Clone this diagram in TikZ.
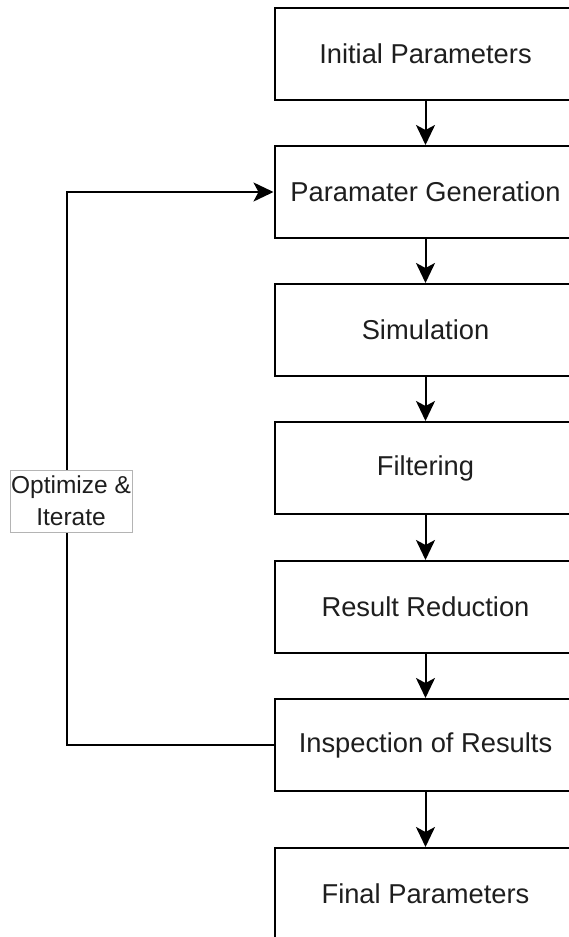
\documentclass[tikz,border=0pt]{standalone}
\usepackage{fontspec}
\setmainfont{Liberation Sans}
\usepackage{tikz}
\usetikzlibrary{arrows.meta, positioning}
\definecolor{textcolor}{RGB}{30, 30, 30}
\definecolor{labelborder}{RGB}{180, 180, 180}

\begin{document}
\begin{tikzpicture}[x=1pt, y=-1pt,
    stepbox/.style={draw, line width=2pt, fill=white, minimum width=302pt, minimum height=92pt,
        font=\fontsize{27.3}{32}\selectfont, text=textcolor},
    flow/.style={line width=2pt, -{Stealth[length=20pt, width=19pt, inset=5pt]}},
    looplabel/.style={draw=labelborder, line width=1pt, fill=white, align=center, inner sep=0pt,
        minimum width=122pt, minimum height=62pt, font=\fontsize{24.5}{32}\selectfont, text=textcolor}]
    % Page
    \useasboundingbox (0, 0) rectangle (569, 937);
    \clip (0, 0) rectangle (569, 937);

    % Process steps
    \node[stepbox] (init) at (425.5, 54) {Initial Parameters};
    \node[stepbox] (gen) at (425.5, 192) {Paramater Generation};
    \node[stepbox] (sim) at (425.5, 330) {Simulation};
    \node[stepbox] (filt) at (425.5, 468) {Filtering};
    \node[stepbox] (red) at (425.5, 607) {Result Reduction};
    \node[stepbox] (insp) at (425.5, 745) {Inspection of Results};
    \node[stepbox] (final) at (425.5, 894) {Final Parameters};

    % Main flow
    \draw[flow] (init) -- (gen);
    \draw[flow] (gen) -- (sim);
    \draw[flow] (sim) -- (filt);
    \draw[flow] (filt) -- (red);
    \draw[flow] (red) -- (insp);
    \draw[flow] (insp) -- (final);

    % Feedback loop
    \draw[flow] (insp.west) -- ++(-207, 0) |- (gen.west);
    \node[looplabel] (opt) at (71, 501) {Optimize \&\\Iterate};

\end{tikzpicture}
\end{document}
